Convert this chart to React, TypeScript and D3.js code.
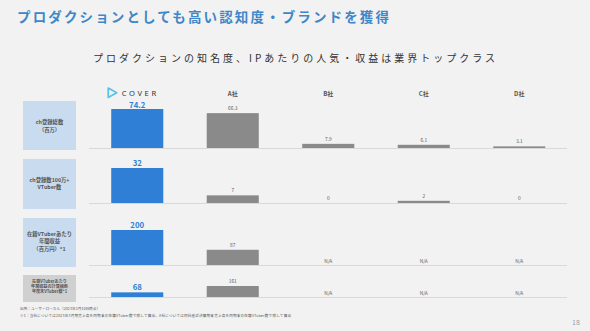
import React from "react";
import * as d3 from "d3";

const companies = ["COVER", "A社", "B社", "C社", "D社"];
const subscribers: (number | null)[] = [74.2, 66.3, 7.9, 6.1, 3.1];
const millionVtubers: (number | null)[] = [32, 7, 0, 2, 0];
const revenuePerVtuber: (number | null)[] = [200, 87, null, null, null];
const vtuberCount: (number | null)[] = [68, 161, null, null, null];

const rowLabels = [
  ["ch登録総数", "（百万）"],
  ["ch登録数100万+", "VTuber数"],
  ["在籍VTuberあたり", "年間収益", "（百万円）*1"],
  ["在籍VTuberあたり", "年間収益の計算根拠", "年度末VTuber数*1"],
];
const rowValues = [subscribers, millionVtubers, revenuePerVtuber, vtuberCount];

const title = "プロダクションとしても高い認知度・ブランドを獲得";
const subtitle = "プロダクションの知名度、IPあたりの人気・収益は業界トップクラス";
const source = "出所：ユーザーローカル（2023年1月10日時点）";
const note = "※1：当社については2023年3月期売上高を同期末の在籍VTuber数で除して算出。A社については同社直近決算期末売上高を同期末の在籍VTuber数で除して算出";

const W = 590, H = 331;
const FONT = "'Noto Sans CJK JP', 'Noto Sans', sans-serif";
const BLUE = "#2f7fd6";
const GRAY = "#8a8a8a";

const rows = [
  { base: 148, top: 109, box: [101, 150], fill: "#c9dbee", ly: [124, 132], fs: 5.3, lo: 1 },
  { base: 203, top: 168, box: [159, 209], fill: "#c9dbee", ly: [182, 189], fs: 5.3, lo: 2 },
  { base: 265, top: 230, box: [218, 267], fill: "#c9dbee", ly: [236, 243, 251], fs: 5.3, lo: 2.5 },
  { base: 297, top: 286, box: [275, 302], fill: "#d0d0d0", ly: [282.5, 287.8, 293.1], fs: 4.1, lo: 2.5 },
];

export default function App() {
  const x = d3
    .scaleBand<string>()
    .domain(companies)
    .range([89.5, 567])
    .paddingInner(0.455)
    .paddingOuter(0.2275);
  const bw = x.bandwidth();

  return (
    <svg width={W} height={H} style={{ position: "absolute", left: 0, top: 0, display: "block" }} fontFamily={FONT}>
      <rect width={W} height={H} fill="#f2f2f2" />
      <text x={17} y={21.5} fontSize={13.5} fontWeight={700} fill="#3d87c8" textLength={372} lengthAdjust="spacing">
        {title}
      </text>
      <text x={93} y={62} fontSize={10} fill="#333" textLength={402} lengthAdjust="spacing">
        {subtitle}
      </text>

      {companies.map((c, i) => {
        const cx = x(c)! + bw / 2;
        if (i === 0) {
          return (
            <g key={c}>
              <path
                d={`M${x(c)! - 3},${88} L${x(c)! + 5.5},${92.8} L${x(c)! - 3},${97.5} Z`}
                fill="none"
                stroke="#56c2e6"
                strokeWidth={1.6}
                strokeLinejoin="round"
              />
              <text x={x(c)! + 10.5} y={96.3} fontSize={7.6} fill="#333" letterSpacing={2.6} fontFamily="'Noto Sans', sans-serif">
                {c}
              </text>
            </g>
          );
        }
        return (
          <text key={c} x={cx} y={96} fontSize={6} fontWeight={700} fill="#555" textAnchor="middle">
            {c}
          </text>
        );
      })}

      {rows.map((r, ri) => {
        const vals = rowValues[ri];
        const max = d3.max(vals, (v) => (v == null ? 0 : v))!;
        const y = d3.scaleLinear().domain([0, max]).range([r.base, r.top]);
        return (
          <g key={ri}>
            <rect x={23} y={r.box[0]} width={53} height={r.box[1] - r.box[0]} fill={r.fill} />
            {rowLabels[ri].map((t, li) => (
              <text key={li} x={49.5} y={r.ly[li]} fontSize={r.fs} fontWeight={700} fill="#555" textAnchor="middle">
                {t}
              </text>
            ))}
            <line x1={89} x2={567} y1={r.base + 0.5} y2={r.base + 0.5} stroke="#d9d9d9" strokeWidth={1} />
            {companies.map((c, ci) => {
              const v = vals[ci];
              const cx = x(c)! + bw / 2;
              if (v == null) {
                return (
                  <text key={c} x={cx} y={r.base - 2} fontSize={4.8} fill="#666" textAnchor="middle">
                    N/A
                  </text>
                );
              }
              const yt = y(v);
              const isCover = ci === 0;
              return (
                <g key={c}>
                  {v > 0 && (
                    <rect x={x(c)!} y={yt} width={bw} height={r.base - yt} fill={isCover ? BLUE : GRAY} />
                  )}
                  <text
                    x={cx}
                    y={isCover ? yt - r.lo : yt - 3}
                    fontSize={isCover ? 7.8 : 4.8}
                    fontWeight={isCover ? 700 : 400}
                    fill={isCover ? BLUE : "#555"}
                    textAnchor="middle"
                  >
                    {String(v)}
                  </text>
                </g>
              );
            })}
          </g>
        );
      })}

      <text x={20} y={310} fontSize={3.6} fill="#555" textLength={80} lengthAdjust="spacing">
        {source}
      </text>
      <text x={20} y={316.5} fontSize={3.6} fill="#555" textLength={271} lengthAdjust="spacing">
        {note}
      </text>
      <text x={576} y={325} fontSize={7} fill="#a0a0a0" textAnchor="middle">
        18
      </text>
    </svg>
  );
}
